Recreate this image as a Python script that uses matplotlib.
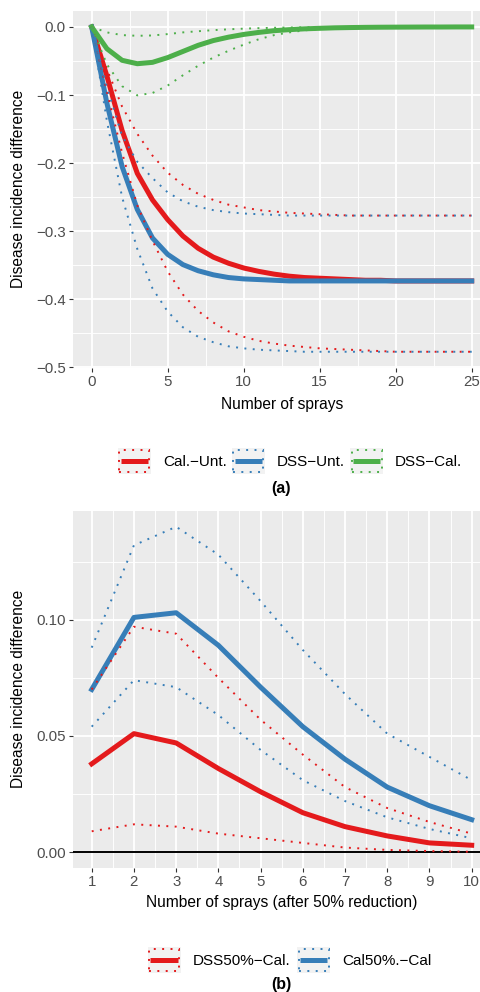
import matplotlib
matplotlib.use("Agg")
import matplotlib.pyplot as plt
from matplotlib.ticker import MultipleLocator, FuncFormatter
from matplotlib.legend_handler import HandlerBase
from matplotlib.patches import Rectangle
from matplotlib.lines import Line2D

plt.rcParams["font.family"] = ["Liberation Sans", "DejaVu Sans"]

# %% data, panel (a)
sprays = list(range(26))

cal_unt = [0, -0.072, -0.152, -0.215, -0.254, -0.283, -0.307, -0.325, -0.338, -0.347,
           -0.354, -0.359, -0.363, -0.366, -0.368, -0.369, -0.370, -0.371, -0.372, -0.372,
           -0.373, -0.373, -0.373, -0.373, -0.373, -0.373]
cal_unt_hi = [0, -0.062, -0.117, -0.157, -0.189, -0.214, -0.232, -0.245, -0.254, -0.261,
              -0.265, -0.269, -0.271, -0.273, -0.274, -0.275, -0.276, -0.277, -0.277, -0.277,
              -0.277, -0.277, -0.277, -0.277, -0.277, -0.277]
cal_unt_lo = [0, -0.095, -0.185, -0.262, -0.314, -0.359, -0.393, -0.417, -0.434, -0.447,
              -0.455, -0.461, -0.465, -0.468, -0.470, -0.472, -0.473, -0.474, -0.475, -0.476,
              -0.477, -0.477, -0.477, -0.477, -0.477, -0.477]

dss_unt = [0, -0.112, -0.205, -0.268, -0.310, -0.334, -0.349, -0.358, -0.364, -0.368,
           -0.370, -0.371, -0.372, -0.373, -0.373, -0.373, -0.373, -0.373, -0.373, -0.373,
           -0.373, -0.373, -0.373, -0.373, -0.373, -0.373]
dss_unt_hi = [0, -0.088, -0.160, -0.198, -0.222, -0.243, -0.256, -0.264, -0.269, -0.272,
              -0.274, -0.275, -0.276, -0.277, -0.277, -0.277, -0.277, -0.277, -0.277, -0.277,
              -0.277, -0.277, -0.277, -0.277, -0.277, -0.277]
dss_unt_lo = [0, -0.138, -0.250, -0.326, -0.384, -0.418, -0.441, -0.455, -0.463, -0.469,
              -0.472, -0.474, -0.475, -0.476, -0.477, -0.477, -0.477, -0.477, -0.477, -0.477,
              -0.477, -0.477, -0.477, -0.477, -0.477, -0.477]

dss_cal = [0, -0.032, -0.049, -0.054, -0.052, -0.045, -0.036, -0.027, -0.020, -0.015,
           -0.011, -0.008, -0.0055, -0.004, -0.0028, -0.002, -0.0013, -0.0009, -0.0006, -0.0004,
           -0.0003, -0.0002, -0.0001, -0.0001, 0, 0]
dss_cal_hi = [0, -0.008, -0.012, -0.013, -0.0125, -0.0105, -0.008, -0.0063, -0.0047, -0.0035,
              -0.0025, -0.0018, -0.0012, -0.0008, -0.0005, -0.0003, -0.0002, -0.0001, 0, 0,
              0, 0, 0, 0, 0, 0]
dss_cal_lo = [0, -0.055, -0.087, -0.1005, -0.097, -0.086, -0.071, -0.057, -0.045, -0.035,
              -0.026, -0.018, -0.012, -0.008, -0.005, -0.003, -0.002, -0.001, -0.0005, 0,
              0, 0, 0, 0, 0, 0]

# %% data, panel (b)
sprays_b = list(range(1, 11))

dss50_cal = [0.038, 0.051, 0.047, 0.036, 0.026, 0.017, 0.011, 0.007, 0.004, 0.003]
dss50_cal_hi = [0.070, 0.097, 0.094, 0.075, 0.057, 0.042, 0.028, 0.019, 0.013, 0.008]
dss50_cal_lo = [0.009, 0.012, 0.011, 0.008, 0.006, 0.004, 0.002, 0.001, 0.0005, 0.0002]

cal50_cal = [0.070, 0.101, 0.103, 0.089, 0.071, 0.054, 0.040, 0.028, 0.020, 0.014]
cal50_cal_hi = [0.088, 0.132, 0.140, 0.128, 0.108, 0.087, 0.068, 0.051, 0.041, 0.031]
cal50_cal_lo = [0.054, 0.074, 0.071, 0.059, 0.044, 0.031, 0.022, 0.015, 0.010, 0.006]

red, blue, green = "#E41A1C", "#377EB8", "#4DAF4A"
dotted = (0, (1, 3.3))
lw_main, lw_dot = 3.6, 1.4


class RibbonKey(HandlerBase):
    def create_artists(self, legend, orig_handle, xdescent, ydescent, width, height, fontsize, trans):
        c = orig_handle.get_color()
        x0, y0 = -xdescent, -ydescent
        bg = Rectangle((x0, y0), width, height, facecolor="#F2F2F2", edgecolor="none", transform=trans)
        box = Rectangle((x0 + 1, y0 + 1), width - 2, height - 2, fill=False, edgecolor=c,
                        lw=lw_dot, linestyle=dotted, transform=trans)
        mid = y0 + height / 2
        ln = Line2D([x0 + 2, x0 + width - 2], [mid, mid], color=c, lw=lw_main,
                    solid_capstyle="butt", transform=trans)
        return [bg, box, ln]


def fmt(d):
    def f(v, pos):
        if abs(v) < 1e-9:
            v = 0.0
        return f"{v:.{d}f}".replace("-", "\u2212")
    return FuncFormatter(f)


def style(ax, xmaj, xmin, ymaj, ymin, d):
    ax.set_facecolor("#EBEBEB")
    for s in ax.spines.values():
        s.set_visible(False)
    ax.xaxis.set_major_locator(MultipleLocator(xmaj))
    ax.xaxis.set_minor_locator(MultipleLocator(xmin))
    ax.yaxis.set_major_locator(MultipleLocator(ymaj))
    ax.yaxis.set_minor_locator(MultipleLocator(ymin))
    ax.yaxis.set_major_formatter(fmt(d))
    ax.grid(which="major", color="white", lw=1.3)
    ax.grid(which="minor", color="white", lw=0.65)
    ax.set_axisbelow(True)
    ax.tick_params(which="major", length=2.75, width=0.8, color="#333333",
                   labelsize=10.8, labelcolor="#4D4D4D", pad=2.2)
    ax.tick_params(which="minor", length=0)
    ax.margins(0.05)


W, H = 481, 992
fig = plt.figure(figsize=(W / 100, H / 100), dpi=100)

# %% panel (a)
ax1 = fig.add_axes([72.7 / W, 1 - 368 / H, 418 / W, 357.3 / H])
series_a = [("Cal.\u2212Unt.", red, cal_unt, cal_unt_hi, cal_unt_lo),
            ("DSS\u2212Unt.", blue, dss_unt, dss_unt_hi, dss_unt_lo),
            ("DSS\u2212Cal.", green, dss_cal, dss_cal_hi, dss_cal_lo)]
handles_a = []
for name, c, mid, hi, lo in series_a:
    h, = ax1.plot(sprays, mid, color=c, lw=lw_main, solid_joinstyle="round")
    handles_a.append(h)
for name, c, mid, hi, lo in series_a:
    ax1.plot(sprays, hi, color=c, lw=lw_dot, linestyle=dotted)
    ax1.plot(sprays, lo, color=c, lw=lw_dot, linestyle=dotted)
style(ax1, 5, 2.5, 0.1, 0.05, 1)
ax1.set_xlabel("Number of sprays", fontsize=11.2, va="center")
ax1.xaxis.set_label_coords(0.5, -(404 - 368) / 357.3)
ax1.set_ylabel("Disease incidence difference", fontsize=11.2, va="center")
ax1.yaxis.set_label_coords((19 - 72.7) / 418, 0.5)

fig.legend(handles_a, [s[0] for s in series_a], loc="center",
           bbox_to_anchor=(290 / W, 1 - 461 / H), ncol=3, frameon=False, fontsize=11,
           handlelength=2.16, handleheight=2.16, handletextpad=0.78, columnspacing=0.35,
           borderpad=0, handler_map={Line2D: RibbonKey()})
fig.text(281 / W, 1 - 489 / H, "(a)", ha="center", va="center", fontsize=11.5, weight="bold")

# %% panel (b)
ax2 = fig.add_axes([72.7 / W, 1 - 868 / H, 418 / W, 357.5 / H])
series_b = [("DSS50%\u2212Cal.", red, dss50_cal, dss50_cal_hi, dss50_cal_lo),
            ("Cal50%.\u2212Cal", blue, cal50_cal, cal50_cal_hi, cal50_cal_lo)]
handles_b = []
for name, c, mid, hi, lo in series_b:
    h, = ax2.plot(sprays_b, mid, color=c, lw=lw_main, solid_joinstyle="round")
    handles_b.append(h)
for name, c, mid, hi, lo in series_b:
    ax2.plot(sprays_b, hi, color=c, lw=lw_dot, linestyle=dotted)
    ax2.plot(sprays_b, lo, color=c, lw=lw_dot, linestyle=dotted)
style(ax2, 1, 0.5, 0.05, 0.025, 2)
ax2.axhline(0, color="black", lw=1.4, zorder=1.5)
ax2.set_xlabel("Number of sprays (after 50% reduction)", fontsize=11.2, va="center")
ax2.xaxis.set_label_coords(0.5, -(903 - 868) / 357.5)
ax2.set_ylabel("Disease incidence difference", fontsize=11.2, va="center")
ax2.yaxis.set_label_coords((19 - 72.7) / 418, 0.5)

fig.legend(handles_b, [s[0] for s in series_b], loc="center",
           bbox_to_anchor=(289.5 / W, 1 - 960 / H), ncol=2, frameon=False, fontsize=11,
           handlelength=2.16, handleheight=2.16, handletextpad=0.78, columnspacing=0.45,
           borderpad=0, handler_map={Line2D: RibbonKey()})
fig.text(281 / W, 1 - 985 / H, "(b)", ha="center", va="center", fontsize=11.5, weight="bold")

fig.savefig("out.png", dpi=100)
